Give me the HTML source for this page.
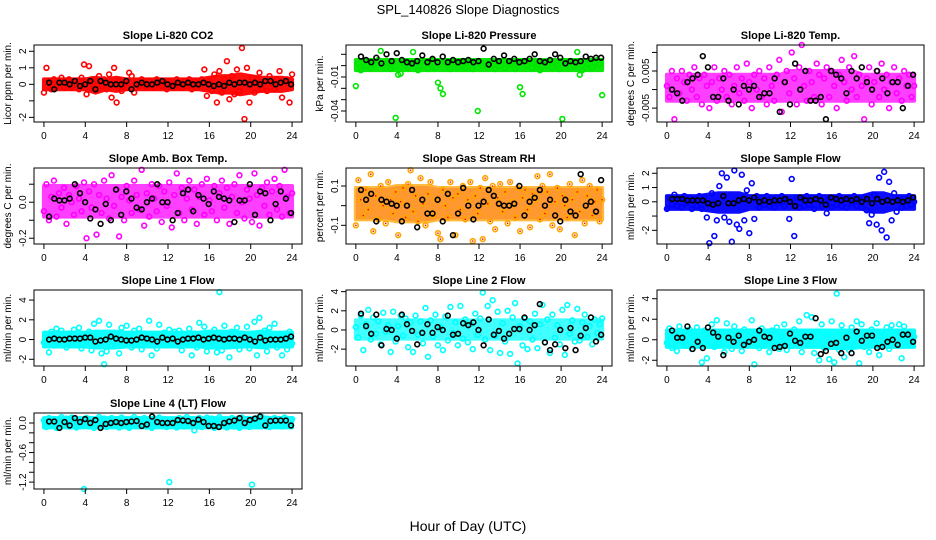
<!DOCTYPE html>
<html><head><meta charset="utf-8"><style>
body{margin:0;background:#fff}
svg{display:block;font-family:"Liberation Sans",Arial,sans-serif}
</style></head><body>
<svg id="chart" width="936" height="540" viewBox="0 0 936 540">
<text x="468" y="14" text-anchor="middle" font-size="13">SPL_140826  Slope Diagnostics</text>
<text x="468" y="531" text-anchor="middle" font-size="14">Hour of Day (UTC)</text>
</svg>
<script>
const xTicks=[0,4,8,12,16,20,24];
const panelTitles=["Slope Li-820 CO2","Slope Li-820 Pressure","Slope Li-820 Temp.","Slope Amb. Box Temp.","Slope Gas Stream RH","Slope Sample Flow","Slope Line 1 Flow","Slope Line 2 Flow","Slope Line 3 Flow","Slope Line 4 (LT) Flow"];
const yTitles=["Licor ppm per min.","kPa per min.","degrees C per min.","degrees C per min.","percent per min.","ml/min per min.","ml/min per min.","ml/min per min.","ml/min per min.","ml/min per min."];
const yTickVals=[[-2,-1,0,1,2],[-0.04,-0.03,-0.02,-0.01,0,0.01],[-0.005,0,0.005,0.01],[-0.2,-0.1,0,0.1],[-0.1,0,0.1],[-2,-1,0,1,2],[-2,0,2,4],[-2,0,2,4],[-2,0,2,4],[-1.2,-1.0,-0.8,-0.6,-0.4,-0.2,0]];
const yTickLabels=[["-2","","0","1","2"],["-0.04","","","-0.01","",""],["-0.005","","0.005",""],["-0.2","","0.0",""],["-0.1","","0.1"],["-2","","0","1","2"],["-2","0","2","4"],["-2","0","2","4"],["-2","0","2","4"],["-1.2","","","-0.6","","","0.0"]];
const yDomains=[[-2.28,2.38],[-0.0497,0.0182],[-0.00874,0.012],[-0.232,0.19],[-0.195,0.1915],[-2.96,2.37],[-2.68,5.02],[-3.76,4.17],[-2.56,4.85],[-1.34,0.203]];
const seriesColors=["#ff0000","#00e600","#ff00ff","#ff00ff","#ffa500","#0000ff","#00ffff","#00ffff","#00ffff","#00ffff"];

// dense-band envelopes, hourly (0..24)
const bandLow=[
[-0.3,-0.3,-0.3,-0.3,-0.3,-0.5,-0.3,-0.4,-0.3,-0.3,-0.3,-0.3,-0.3,-0.3,-0.3,-0.3,-0.4,-0.5,-0.5,-0.6,-0.5,-0.4,-0.4,-0.4,-0.3],
[-0.004,-0.004,-0.004,-0.004,-0.004,-0.004,-0.004,-0.004,-0.004,-0.004,-0.004,-0.004,-0.004,-0.004,-0.004,-0.004,-0.004,-0.004,-0.004,-0.004,-0.004,-0.004,-0.004,-0.004,-0.004],
[-0.003,-0.003,-0.003,-0.003,-0.003,-0.003,-0.003,-0.003,-0.003,-0.003,-0.003,-0.003,-0.003,-0.003,-0.003,-0.003,-0.003,-0.003,-0.003,-0.003,-0.003,-0.003,-0.003,-0.003,-0.003],
[-0.08,-0.08,-0.08,-0.08,-0.08,-0.08,-0.08,-0.08,-0.08,-0.08,-0.08,-0.08,-0.08,-0.08,-0.08,-0.08,-0.08,-0.08,-0.08,-0.08,-0.08,-0.08,-0.08,-0.08,-0.08],
[-0.07,-0.07,-0.07,-0.07,-0.08,-0.08,-0.08,-0.08,-0.07,-0.07,-0.07,-0.07,-0.07,-0.07,-0.07,-0.07,-0.07,-0.07,-0.07,-0.07,-0.07,-0.07,-0.07,-0.07,-0.07],
[-0.5,-0.5,-0.5,-0.5,-0.6,-0.7,-0.7,-0.7,-0.5,-0.5,-0.5,-0.5,-0.5,-0.5,-0.5,-0.5,-0.5,-0.5,-0.5,-0.5,-0.7,-0.7,-0.5,-0.5,-0.5],
[-0.7,-0.7,-0.7,-0.7,-0.7,-0.8,-0.8,-0.8,-0.7,-0.7,-0.7,-0.7,-0.7,-0.7,-0.7,-0.7,-0.8,-0.8,-0.8,-0.7,-0.7,-0.8,-0.7,-0.7,-0.7],
[-0.9,-0.9,-0.9,-0.9,-0.9,-0.9,-0.9,-0.9,-0.9,-0.9,-0.9,-0.9,-0.9,-0.9,-0.9,-0.9,-0.9,-0.9,-0.9,-0.9,-0.9,-0.9,-0.9,-0.9,-0.9],
[-0.7,-0.7,-0.7,-0.7,-0.7,-0.7,-0.7,-0.7,-0.7,-0.7,-0.7,-0.7,-0.7,-0.7,-0.7,-0.7,-0.8,-0.8,-0.8,-0.7,-0.7,-0.7,-0.7,-0.7,-0.7],
[-0.09,-0.09,-0.09,-0.09,-0.09,-0.09,-0.09,-0.09,-0.09,-0.09,-0.09,-0.09,-0.09,-0.09,-0.09,-0.09,-0.09,-0.09,-0.09,-0.09,-0.09,-0.09,-0.09,-0.09,-0.09]];
const bandHigh=[
[0.3,0.3,0.3,0.3,0.3,0.4,0.3,0.4,0.3,0.3,0.3,0.3,0.3,0.3,0.3,0.3,0.4,0.5,0.5,0.6,0.5,0.4,0.4,0.4,0.3],
[0.005,0.005,0.005,0.005,0.005,0.005,0.005,0.005,0.005,0.005,0.005,0.005,0.005,0.005,0.005,0.005,0.005,0.005,0.005,0.005,0.005,0.005,0.005,0.005,0.005],
[0.004,0.004,0.004,0.004,0.004,0.004,0.004,0.004,0.004,0.004,0.004,0.004,0.005,0.005,0.005,0.005,0.005,0.005,0.005,0.004,0.004,0.004,0.004,0.004,0.004],
[0.09,0.09,0.09,0.09,0.09,0.09,0.09,0.09,0.09,0.09,0.09,0.09,0.09,0.09,0.09,0.09,0.09,0.09,0.09,0.09,0.09,0.09,0.09,0.09,0.09],
[0.09,0.09,0.09,0.09,0.1,0.1,0.1,0.1,0.09,0.09,0.09,0.09,0.09,0.09,0.09,0.09,0.09,0.09,0.09,0.09,0.09,0.09,0.09,0.09,0.09],
[0.4,0.4,0.4,0.4,0.5,0.6,0.6,0.6,0.4,0.4,0.4,0.4,0.4,0.4,0.4,0.4,0.4,0.4,0.4,0.4,0.6,0.6,0.4,0.4,0.4],
[0.7,0.7,0.7,0.7,0.7,0.8,0.8,0.8,0.7,0.7,0.7,0.7,0.7,0.7,0.7,0.7,0.8,0.8,0.8,0.7,0.7,0.8,0.7,0.7,0.7],
[1.0,1.0,1.0,1.0,1.0,1.0,1.0,1.0,1.0,1.0,1.0,1.0,1.0,1.0,1.0,1.0,1.0,1.0,1.0,1.0,1.0,1.0,1.0,1.0,1.0],
[0.9,0.9,0.9,0.9,0.9,0.9,0.9,0.9,0.9,0.9,0.9,0.9,0.9,0.9,0.9,0.9,0.9,0.9,0.9,0.9,0.9,0.9,0.9,0.9,0.9],
[0.1,0.1,0.1,0.1,0.1,0.1,0.1,0.1,0.1,0.1,0.1,0.1,0.1,0.1,0.1,0.1,0.1,0.1,0.1,0.1,0.1,0.1,0.1,0.1,0.1]];

const c0=[-0.5,1.0,0.2,-0.3,0.3,-0.1,0.2,0.4,-0.2,0.1,0.3,-0.2,0.2,0.0,-0.3,0.4,1.2,-0.6,1.1,0.3,-0.2,0.2,0.5,-0.1,0.3,-0.3,0.6,-0.8,1.0,-1.1,0.2,-0.4,0.1,-0.2,0.7,0.5,-0.5,0.2,-0.1,0.3,0.1,-0.2,0.2,0.0,-0.2,0.3,0.1,-0.1,0.2,-0.3,0.2,0.0,-0.2,0.3,0.1,-0.2,0.2,-0.1,0.3,-0.3,0.2,-0.2,0.1,0.3,0.9,-0.7,0.2,-0.4,0.6,-1.1,0.8,-0.5,0.3,1.4,-0.9,0.5,-0.6,0.9,-0.4,2.2,-2.1,1.0,-1.1,0.4,-0.5,0.3,0.7,-0.3,0.2,-0.4,0.5,0.1,-0.3,0.3,0.8,-0.8,0.2,0.3,-1.1,0.6];
const k0=[0.1,-0.3,0.1,0.1,0.0,0.2,-0.1,0.0,0.2,-0.3,0.2,0.1,0.0,0.0,0.0,0.2,-0.3,0.0,0.1,0.0,0.0,0.1,0.2,0.0,-0.1,0.1,0.0,0.1,0.0,0.0,0.1,0.0,-0.1,0.0,-0.1,0.1,0.0,0.1,0.1,0.0,0.1,0.0,0.2,0.2,0.0,0.1,0.2,0.0];
const c1=[-0.018,0.002,-0.004,0.003,0.000,0.004,-0.002,0.003,0.001,0.005,0.013,-0.001,0.003,0.002,-0.003,0.004,-0.046,-0.008,-0.007,0.002,0.004,-0.002,0.003,0.012,0.001,-0.004,0.003,0.000,0.004,-0.003,0.002,0.005,-0.002,-0.015,-0.020,-0.025,0.003,0.001,-0.003,0.004,0.002,-0.001,0.004,0.000,-0.002,0.003,0.001,-0.003,0.004,-0.040,0.002,0.000,0.003,-0.002,0.004,0.001,-0.003,0.003,0.000,0.004,-0.002,0.003,0.001,0.004,-0.003,0.002,-0.019,-0.025,0.003,0.000,0.004,-0.002,0.003,0.001,-0.004,0.003,0.002,0.000,0.004,-0.002,0.003,0.001,-0.003,-0.047,0.004,0.002,-0.001,0.003,0.000,0.012,-0.008,-0.004,0.003,0.001,0.004,-0.002,0.003,0.005,0.001,-0.026];
const k1=[0.008,0.005,0.003,0.007,0.002,0.010,0.004,0.011,0.005,0.003,0.002,0.004,0.009,0.003,0.006,0.003,0.008,0.003,0.005,0.003,0.004,0.005,0.003,0.004,0.015,0.001,0.006,0.004,0.009,0.004,0.006,0.003,0.004,0.006,0.010,0.004,0.003,0.005,0.010,0.007,0.002,0.004,0.003,0.004,0.008,0.006,0.007,0.007];
const c2=[0.001,-0.002,0.005,-0.008,0.003,-0.001,0.005,0.002,-0.003,0.004,0.000,0.006,-0.002,0.003,-0.004,0.004,0.001,-0.005,0.002,0.006,-0.003,0.003,0.000,0.005,-0.002,0.004,-0.004,0.001,0.006,-0.001,0.003,-0.003,0.007,0.002,-0.005,0.004,0.000,0.005,-0.002,0.003,-0.004,0.006,0.001,-0.003,0.004,0.008,-0.006,0.002,0.005,-0.001,0.010,0.003,-0.004,0.006,0.012,0.001,-0.003,0.005,0.002,-0.002,0.007,0.004,-0.004,0.003,0.006,-0.002,0.005,0.001,-0.005,0.004,0.008,0.002,-0.003,0.006,0.000,0.009,-0.002,0.004,0.001,-0.008,0.003,0.006,-0.004,0.002,0.005,-0.002,0.007,0.000,0.004,-0.005,0.002,0.006,-0.001,0.003,-0.003,0.005,0.001,0.004,-0.002,0.001];
const k2=[0.000,-0.001,-0.003,0.002,0.003,0.004,0.009,0.006,-0.002,-0.002,0.003,-0.003,0.000,-0.004,0.001,0.000,0.001,-0.002,-0.001,-0.001,0.003,-0.006,0.002,-0.004,0.007,0.000,0.005,-0.003,-0.003,-0.002,-0.008,0.005,0.004,0.003,-0.001,0.005,0.003,0.006,0.002,0.000,0.005,0.003,-0.001,0.002,0.002,-0.005,0.001,0.004];
const c3=[-0.05,0.10,-0.1,0.03,0.12,-0.08,0.05,-0.03,0.08,-0.12,0.04,0.0,-0.07,0.09,0.02,-0.05,0.11,-0.2,0.06,-0.03,0.1,-0.18,0.04,-0.06,0.12,0.02,-0.09,0.15,-0.02,0.07,-0.19,0.03,-0.1,0.09,0.01,-0.06,0.12,0.04,-0.04,0.18,-0.13,0.05,-0.08,0.1,0.02,-0.05,0.09,-0.11,0.06,-0.02,0.11,-0.14,0.04,0.16,-0.06,0.08,-0.1,0.02,0.12,-0.04,0.07,-0.12,0.03,0.1,-0.07,0.13,0.01,-0.05,0.09,-0.1,0.05,0.12,-0.03,0.08,-0.12,0.03,0.1,-0.06,0.15,0.0,-0.09,0.07,0.02,-0.11,0.16,0.04,-0.13,0.08,-0.02,0.11,-0.07,0.06,0.13,-0.04,0.09,-0.08,0.18,0.03,-0.06,0.05];
const k3=[-0.08,0.02,0.01,0.01,0.02,0.1,0.05,0.0,-0.09,-0.04,-0.12,-0.01,-0.1,0.07,-0.07,0.06,0.02,-0.03,-0.04,0.0,0.02,0.1,0.0,0.0,-0.1,-0.06,0.05,0.07,-0.05,0.04,0.02,-0.01,0.06,0.03,0.02,0.01,-0.11,0.01,0.01,0.1,-0.07,0.06,0.05,-0.1,-0.01,0.06,0.02,-0.06];
const c4=[-0.1,0.13,0.03,-0.05,0.08,-0.02,0.16,-0.13,0.05,-0.07,0.1,0.0,-0.09,0.12,0.03,-0.04,0.07,-0.15,0.02,0.09,-0.06,0.11,0.18,-0.03,0.05,-0.08,0.14,0.01,-0.1,0.06,0.12,-0.05,0.03,-0.14,-0.17,0.08,0.0,-0.06,0.12,0.04,-0.15,0.06,-0.02,0.1,-0.07,0.03,0.12,-0.18,0.05,-0.04,0.09,-0.17,0.14,0.01,-0.08,0.1,-0.12,0.04,0.11,-0.03,0.07,-0.09,0.12,0.02,-0.06,0.09,-0.13,0.04,0.08,-0.02,-0.11,0.06,0.03,0.15,-0.07,0.1,-0.04,0.07,0.16,-0.1,0.02,0.09,-0.12,0.05,0.0,-0.06,0.11,0.03,-0.15,0.07,-0.03,0.13,-0.09,0.05,0.1,-0.05,0.02,0.08,-0.08,0.03];
const k4=[0.08,0.03,0.06,-0.08,0.03,0.02,0.01,0.0,-0.08,0.0,0.08,-0.11,0.03,-0.04,-0.04,0.03,-0.08,0.06,-0.15,-0.04,0.09,0.0,-0.07,0.0,0.02,0.08,0.05,0.01,0.0,0.0,0.01,0.1,-0.05,0.02,0.04,0.08,0.0,0.03,-0.05,-0.08,0.03,-0.03,-0.05,0.16,0.0,0.02,-0.03,0.13];
const c5=[-0.5,0.3,-0.2,0.5,-0.3,0.2,-0.4,0.4,-0.1,0.3,-0.5,0.2,-0.3,0.4,-0.5,0.3,-1.1,-2.9,0.6,-2.4,-1.3,1.1,2.0,-1.1,1.7,-1.4,-2.8,2.2,-1.6,-1.9,1.9,-1.3,0.8,-2.2,1.3,-1.2,0.4,-0.4,0.3,-0.2,0.4,-0.3,0.2,-0.4,0.3,-0.1,0.4,-0.3,0.2,-1.2,1.6,-2.4,0.3,-0.4,0.2,-0.3,0.4,-0.2,0.3,-0.5,0.2,0.4,-0.3,0.3,-0.8,0.2,-0.4,0.3,-0.2,0.4,-0.3,0.2,-0.4,0.3,-0.1,0.4,-0.3,0.2,-0.4,0.3,-0.6,-1.5,-0.9,0.5,-1.6,1.7,-2.0,2.1,-2.5,1.4,-1.3,0.6,-0.7,0.3,-0.4,0.2,-0.3,0.4,-0.2,0.0];
const k5=[0.2,0.2,0.2,0.1,0.1,0.1,0.1,-0.1,-0.2,-0.1,0.4,-0.1,-0.1,0.1,0.2,0.1,0.3,0.0,0.1,0.0,0.1,0.1,0.2,0.0,-0.3,0.3,0.1,0.1,0.2,0.1,-0.2,0.3,0.2,0.1,0.2,0.1,0.2,0.0,0.2,-0.1,0.2,0.0,0.1,0.0,0.1,0.0,0.1,0.3];
const c6=[-0.3,0.5,-1.3,0.8,-0.6,1.1,-0.4,0.9,0.2,-0.8,0.6,-0.3,1.0,-0.5,1.2,-0.9,0.4,-0.2,0.8,-1.1,1.6,-0.6,1.9,-1.4,-2.5,-1.2,1.5,-0.7,0.5,-0.3,-1.4,1.2,-0.5,1.4,0.3,-0.8,0.9,-0.4,1.1,-1.0,0.6,-0.2,1.9,-1.6,0.4,-0.9,1.5,-0.3,0.7,-0.6,1.0,-0.4,0.8,-0.2,0.9,-1.1,0.5,-0.3,1.1,-1.6,0.6,-0.8,1.7,-0.5,1.3,-1.2,0.4,-0.4,1.0,-1.3,4.8,-1.1,1.4,-0.7,-1.8,0.8,-0.5,1.2,-1.0,0.6,-0.3,1.3,-0.9,0.5,1.8,-1.6,2.2,-0.6,0.9,-1.2,1.2,-0.4,1.6,-0.8,0.5,-1.6,0.3,-1.0,0.8,-0.4];
const k6=[0.0,0.1,0.0,0.0,0.1,0.1,0.1,0.2,0.2,-0.2,-0.1,0.0,0.3,0.1,0.0,-0.1,-0.1,0.0,0.2,0.1,0.0,-0.2,0.2,0.0,0.1,-0.2,0.0,0.1,0.1,0.2,0.0,0.1,0.2,0.1,0.0,0.1,0.1,0.0,0.2,0.0,-0.2,0.2,-0.1,0.0,0.0,0.0,0.1,0.3];
const c7=[0.3,-0.8,1.5,-2.1,0.6,2.1,-1.0,1.3,-0.4,0.9,-1.5,1.8,-0.2,0.5,-2.3,1.9,-1.2,0.4,1.5,-0.6,1.2,-1.8,0.8,-2.3,1.5,-0.5,0.9,-1.4,2.3,-2.8,1.0,-0.7,1.6,-1.6,0.3,-2.1,1.4,-1.1,2.4,-0.3,0.8,-1.6,2.5,-0.9,1.1,-1.3,0.6,-2.0,1.7,-0.5,1.2,3.9,-1.0,2.5,-2.1,3.1,-0.6,1.9,-2.4,0.7,-1.2,2.0,-2.5,1.3,2.8,-3.5,0.4,-1.6,1.2,-2.0,0.9,-1.0,1.7,-1.9,0.6,2.6,-1.3,1.1,-2.4,1.6,-0.8,0.5,-1.5,2.1,-2.6,2.6,-0.4,1.0,-1.2,2.2,-1.1,0.8,1.6,-0.7,0.4,-1.5,1.1,-0.3,0.6,1.2];
const k7=[1.7,0.4,-0.4,1.6,-1.6,0.1,0.0,-0.9,1.6,0.6,-0.1,-1.5,-0.3,0.6,-0.3,0.3,0.0,1.5,-0.5,-0.4,0.7,0.5,0.8,0.0,-1.6,1.1,-0.5,-0.1,-0.9,-0.4,0.1,0.1,1.3,0.0,0.5,2.7,-1.3,-2.1,-1.5,0.0,-1.9,0.2,-2.1,-0.6,0.2,1.3,-1.2,-0.5];
const c8=[-0.3,1.1,-0.8,0.5,-1.1,1.3,-0.2,0.8,-0.6,1.0,-0.9,0.4,1.2,-0.5,-2.2,0.9,-1.8,0.3,1.5,-0.7,1.9,-0.4,0.7,-1.2,1.6,0.2,-0.9,1.3,-0.3,0.6,-1.1,1.0,-0.4,0.8,1.9,-2.4,0.5,-0.8,1.1,-0.2,0.4,-1.2,0.9,-0.6,1.2,-0.9,0.3,1.5,-1.0,0.5,-0.6,1.0,-0.3,1.8,-1.2,0.6,2.4,-0.5,2.2,-1.3,0.8,-2.0,1.5,-0.8,0.4,-1.9,1.8,-2.2,4.5,-1.0,1.4,-1.7,0.6,-1.0,1.2,-0.5,1.8,-2.3,1.5,-0.7,0.5,-1.2,1.0,-0.3,1.6,-1.5,0.7,-0.4,1.2,-0.9,1.4,-0.5,0.8,1.5,-1.8,1.3,-0.2,0.7,-0.4,0.3];
const k8=[0.9,0.2,0.2,1.3,-0.9,-0.2,-0.8,1.2,0.7,0.3,-1.5,0.2,-0.2,0.4,-0.5,-0.2,0.0,0.9,0.3,0.2,-0.8,-0.7,-0.6,0.6,-0.1,-0.3,0.3,0.3,2.1,-1.4,-1.1,-0.4,-0.3,-1.3,0.2,-1.3,0.8,-0.1,0.4,0.4,-0.8,-0.7,-0.2,0.0,-0.5,0.5,0.5,-0.2];
const c9=[0.05,-0.08,0.1,-0.04,0.08,-0.1,0.06,0.12,-0.05,0.09,-0.07,0.11,0.03,-0.09,0.07,-0.03,-1.34,0.1,-0.06,0.08,-0.1,0.05,0.12,-0.04,0.09,-0.08,0.06,0.1,-0.05,0.08,-0.09,0.11,-0.02,0.07,-0.1,0.04,0.12,-0.06,0.08,-0.03,0.1,-0.07,0.06,-0.1,0.09,0.05,0.11,-0.05,0.07,-0.08,-1.2,-0.04,0.06,-0.09,0.1,0.03,-0.07,0.12,-0.05,0.08,-0.15,0.06,0.1,-0.08,0.04,0.11,-0.06,0.09,-0.1,0.07,0.12,-0.04,0.08,-0.09,0.05,0.1,-0.07,0.06,-0.1,0.11,-0.05,0.08,-0.08,-1.25,0.07,0.1,-0.06,0.12,-0.03,0.09,-0.08,0.06,0.1,-0.05,0.08,-0.07,0.11,0.04,-0.06,0.08];
const k9=[0.03,0.03,-0.1,0.02,-0.05,0.1,0.02,0.08,0.0,0.06,-0.1,-0.02,0.0,0.02,0.0,0.02,0.03,0.04,-0.06,-0.03,0.13,0.02,0.0,0.0,0.0,0.06,0.05,0.04,0.0,0.07,0.02,-0.06,-0.06,-0.08,0.0,0.03,0.05,0.1,0.0,0.06,0.09,0.13,-0.05,0.04,0.05,0.05,0.05,-0.05];
const colored=[c0,c1,c2,c3,c4,c5,c6,c7,c8,c9];
const black=[k0,k1,k2,k3,k4,k5,k6,k7,k8,k9];

const NS="http://www.w3.org/2000/svg";
const svg=document.getElementById('chart');
const cols=[[34,302],[346,612],[657,924]];
const rows=[[45,122],[168,244],[290,366],[413,489]];
function mk(tag,attrs,parent){const e=document.createElementNS(NS,tag);for(const k in attrs)e.setAttribute(k,attrs[k]);(parent||svg).appendChild(e);return e;}

for(let p=0;p<10;p++){
  const [L,R]=cols[p%3]; const [T,B]=rows[Math.floor(p/3)];
  const g=mk('g',{});
  
  
  const xs=h=>L+(h+0.96)/25.92*(R-L);
  const [y0,y1]=yDomains[p];
  const ys=v=>B-(v-y0)/(y1-y0)*(B-T);
  const t=mk('text',{x:(L+R)/2,y:T-6,'text-anchor':'middle','font-size':11,'font-weight':'bold'},g);
  t.textContent=panelTitles[p];
  
  
  const yt=mk('text',{x:0,y:0,'text-anchor':'middle','font-size':10,transform:`translate(${L-23},${(T+B)/2}) rotate(-90)`},g);
  yt.textContent=yTitles[p];
  
  
  // dense band
  const lo=bandLow[p], hi=bandHigh[p];
  let pts=hi.map((v,i)=>xs(i)+','+ys(v));
  pts=pts.concat(lo.map((v,i)=>xs(i)+','+ys(v)).reverse());
  const band=mk('polygon',{points:pts.join(' '),fill:seriesColors[p],stroke:seriesColors[p],'stroke-width':4,'stroke-linejoin':'round',opacity:(p===2||p===3||p===4||p===7)?0.75:0.95},g);
  
  
  if(p===4){
    const inner=mk('polygon',{points:pts.join(' '),fill:'#ff3000',opacity:0.25},g);
    
    
  }
  // points
  const pg=mk('g',{fill:'none','stroke-width':1.6},g);
  
  
  const cv=colored[p];
  cv.forEach((v,i)=>{const h=i*24/(cv.length-1);
    const c=mk('circle',{cx:xs(h),cy:ys(v),r:2.4,stroke:seriesColors[p]},pg);
    
    
    if(p===4){const d=mk('circle',{cx:xs(h),cy:ys(v),r:0.8,fill:'#ff0000',stroke:'none'},pg);
      
      }
  });
  black[p].forEach((v,i)=>{const h=0.5+i*0.5*(23.4/23.5);
    const c=mk('circle',{cx:xs(h),cy:ys(v),r:2.4,stroke:'#000'},pg);
    
    
  });
  const box=mk('rect',{x:L,y:T,width:R-L,height:B-T,fill:'none',stroke:'#000','stroke-width':1},g);
  
  
  xTicks.forEach(h=>{const x=xs(h);
    const l=mk('line',{x1:x,x2:x,y1:B,y2:B+5,stroke:'#000'},g);
    
    
    const tx=mk('text',{x:x,y:B+17,'text-anchor':'middle','font-size':10},g);
    tx.textContent=h;
    
    
  });
  yTickVals[p].forEach((v,i)=>{const y=ys(v);
    const l=mk('line',{x1:L-5,x2:L,y1:y,y2:y,stroke:'#000'},g);
    
    
    if(yTickLabels[p][i]){
      const tx=mk('text',{x:0,y:0,'text-anchor':'middle','font-size':10,transform:`translate(${L-8},${y}) rotate(-90)`},g);
      tx.textContent=yTickLabels[p][i];
      
      
    }
  });
}
</script>
</body></html>
